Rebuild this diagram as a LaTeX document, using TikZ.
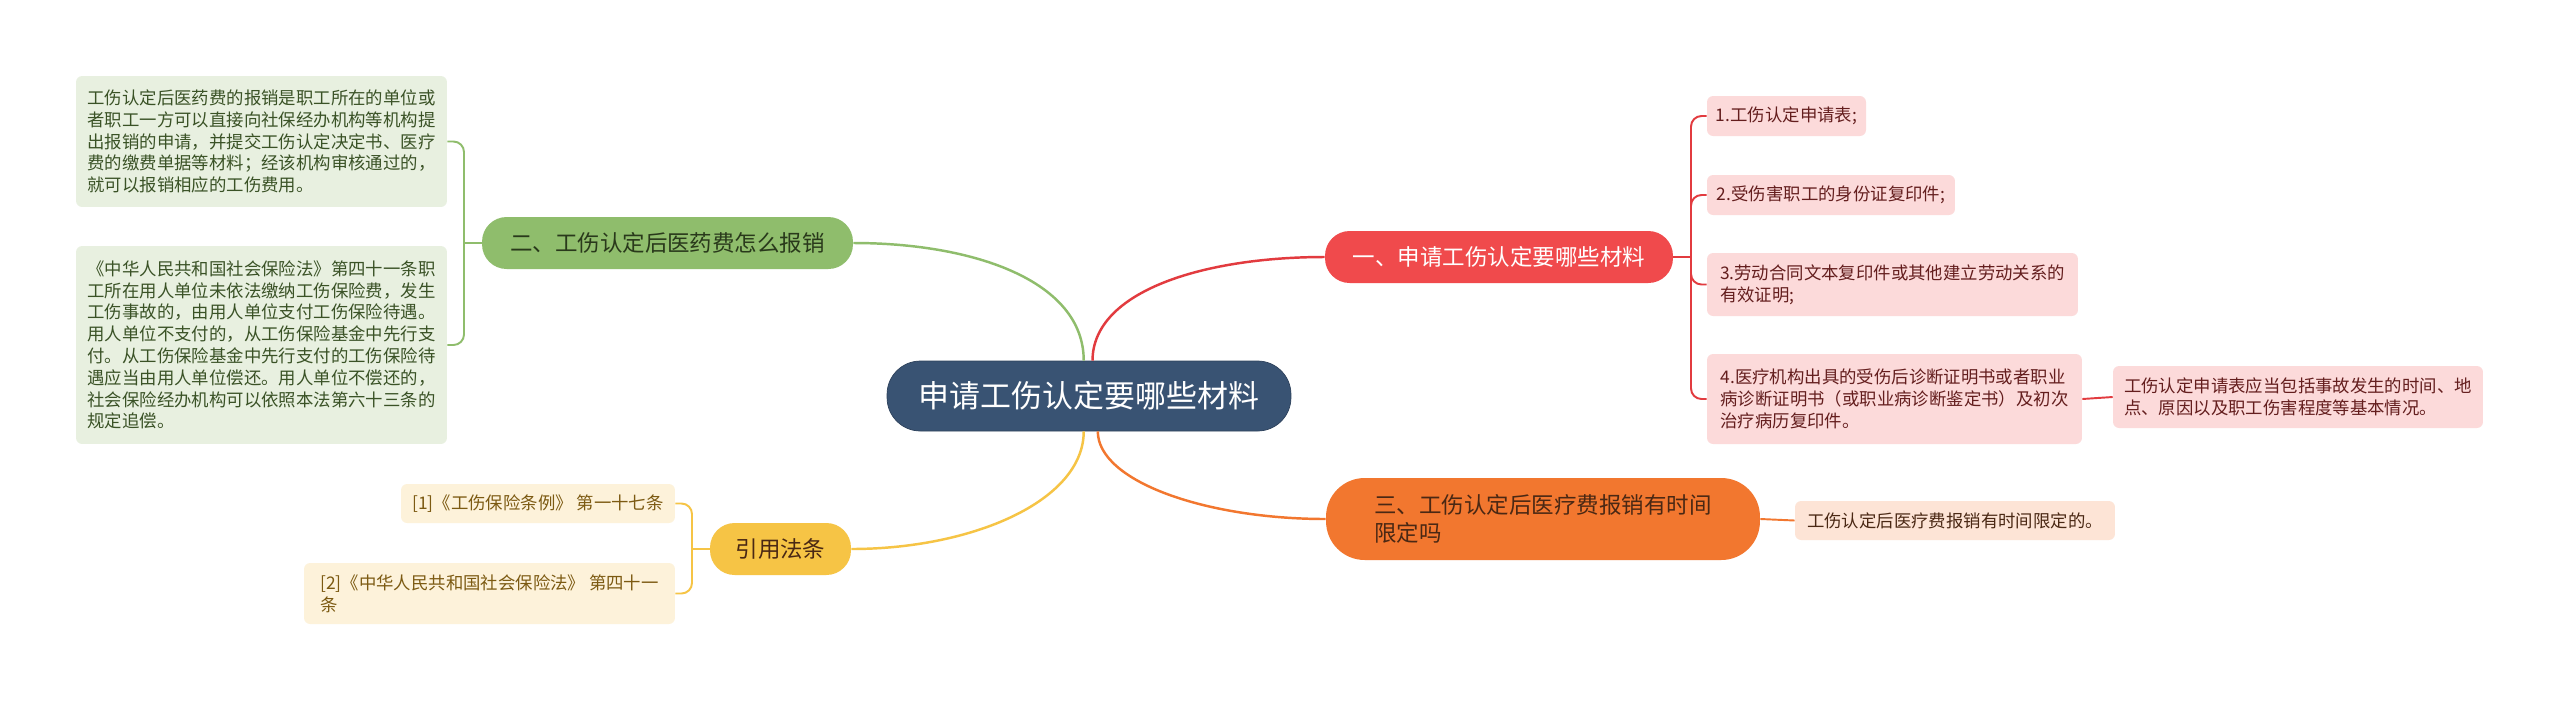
\documentclass[tikz,border=0pt]{standalone}
\usepackage{fontspec}
\setmainfont{Noto Sans CJK SC}
\definecolor{rootblue}{HTML}{395373}
\definecolor{redmain}{HTML}{F04A4C}
\definecolor{redline}{HTML}{E23B3F}
\definecolor{redleaf}{HTML}{FCDADA}
\definecolor{redtext}{HTML}{641E1E}
\definecolor{greenmain}{HTML}{8FBD6C}
\definecolor{greenleaf}{HTML}{E8F0E0}
\definecolor{greentext}{HTML}{3A5226}
\definecolor{yellowmain}{HTML}{F6C445}
\definecolor{yellowleaf}{HTML}{FDF2DA}
\definecolor{yellowtext}{HTML}{7C5A12}
\definecolor{orangemain}{HTML}{F2772F}
\definecolor{orangeleaf}{HTML}{FDE4D6}
\definecolor{orangetext}{HTML}{4A2814}
\tikzset{
  leaf/.style={rounded corners=3.5pt, inner sep=0pt, align=left, font=\fontsize{9.9}{12.4}\selectfont},
  branch/.style={rounded corners=14pt, inner sep=0pt, align=left, minimum height=1.04cm, font=\fontsize{12.8}{15.7}\selectfont},
  link/.style={line width=1.4pt},
  twig/.style={line width=1.1pt, rounded corners=6pt},
}
\begin{document}
\begin{tikzpicture}[x=0.02cm, y=-0.02cm]
                \fill [white] (0,0) rectangle (2560,701);
                \useasboundingbox (0,0) rectangle (2560,701);
                
                % Drawing root
                \node [fill=rootblue, draw=rootblue!80!black, rounded corners=19pt, minimum width=8.08cm, minimum height=1.4cm, text=white, font=\fontsize{17.6}{21}\selectfont] (root) at (1089,396) {申请工伤认定要哪些材料};
                
                % Drawing branch red
                \node [branch, fill=redmain, minimum width=6.96cm, text=white] (red) at (1499,257) {一、申请工伤认定要哪些材料};
                
                % Drawing branch green
                \node [branch, fill=greenmain, minimum width=7.42cm, text=greentext!70!black] (green) at (667.5,243) {二、工伤认定后医药费怎么报销};
                
                % Drawing branch orange
                \node [branch, fill=orangemain, rounded corners=22pt, minimum width=8.68cm, minimum height=1.64cm, text=orangetext] (orange) at (1543,519) {三、工伤认定后医疗费报销有时间\\限定吗};
                
                % Drawing branch yellow
                \node [branch, fill=yellowmain, minimum width=2.82cm, text=orangetext] (yellow) at (780.5,549) {引用法条};
                
                % Drawing leaves red
                \node [leaf, fill=redleaf, text=redtext, minimum width=3.18cm, minimum height=0.8cm] (r1) at (1786.5,116) {1.工伤认定申请表;};
                \node [leaf, fill=redleaf, text=redtext, minimum width=4.96cm, minimum height=0.8cm] (r2) at (1831,195) {2.受伤害职工的身份证复印件;};
                \node [leaf, fill=redleaf, text=redtext, minimum width=7.42cm, minimum height=1.26cm] (r3) at (1892.5,284.5) {3.劳动合同文本复印件或其他建立劳动关系的\\有效证明;};
                \node [leaf, fill=redleaf, text=redtext, minimum width=7.5cm, minimum height=1.8cm] (r4) at (1894.5,399) {4.医疗机构出具的受伤后诊断证明书或者职业\\病诊断证明书（或职业病诊断鉴定书）及初次\\治疗病历复印件。};
                \node [leaf, fill=redleaf, text=redtext, minimum width=7.4cm, minimum height=1.24cm] (r4note) at (2298,397) {工伤认定申请表应当包括事故发生的时间、地\\点、原因以及职工伤害程度等基本情况。};
                
                % Drawing leaf orange
                \node [leaf, fill=orangeleaf, text=orangetext, minimum width=6.4cm, minimum height=0.78cm] (o1) at (1955,520.5) {工伤认定后医疗费报销有时间限定的。};
                
                % Drawing leaves green
                \node [leaf, fill=greenleaf, text=greentext, minimum width=7.42cm, minimum height=2.62cm] (g1) at (261.5,141.5) {工伤认定后医药费的报销是职工所在的单位或\\者职工一方可以直接向社保经办机构等机构提\\出报销的申请，并提交工伤认定决定书、医疗\\费的缴费单据等材料；经该机构审核通过的，\\就可以报销相应的工伤费用。};
                \node [leaf, fill=greenleaf, text=greentext, minimum width=7.42cm, minimum height=3.96cm] (g2) at (261.5,345) {《中华人民共和国社会保险法》第四十一条职\\工所在用人单位未依法缴纳工伤保险费，发生\\工伤事故的，由用人单位支付工伤保险待遇。\\用人单位不支付的，从工伤保险基金中先行支\\付。从工伤保险基金中先行支付的工伤保险待\\遇应当由用人单位偿还。用人单位不偿还的，\\社会保险经办机构可以依照本法第六十三条的\\规定追偿。};
                
                % Drawing leaves yellow
                \node [leaf, fill=yellowleaf, text=yellowtext, minimum width=5.48cm, minimum height=0.78cm] (y1) at (538,503.5) {[1]《工伤保险条例》 第一十七条};
                \node [leaf, fill=yellowleaf, text=yellowtext, minimum width=7.42cm, minimum height=1.22cm] (y2) at (489.5,593.5) {[2]《中华人民共和国社会保险法》 第四十一\\条};
                
                % Drawing links from root
                \draw [link, redline] ([xshift=2pt]root.north) .. controls +(0,-70) and +(-120,0) .. (red.west);
                \draw [link, greenmain] ([xshift=-3pt]root.north) .. controls +(0,-80) and +(120,0) .. (green.east);
                \draw [link, yellowmain] ([xshift=-3pt]root.south) .. controls +(0,70) and +(120,0) .. (yellow.east);
                \draw [link, orangemain] ([xshift=5pt]root.south) .. controls +(0,50) and +(-120,0) .. (orange.west);
                
                % Drawing twigs red
                \coordinate (rj) at (1691,257);
                \draw [twig, redline] (red.east) -- (rj);
                \draw [twig, redline] (rj) |- (r1.west);
                \draw [twig, redline] (rj) |- (r2.west);
                \draw [twig, redline] (rj) |- (r3.west);
                \draw [twig, redline] (rj) |- (r4.west);
                \draw [twig, redline] (r4.east) -- (r4note.west);
                
                % Drawing twig orange
                \draw [twig, orangemain] (orange.east) -- (o1.west);
                
                % Drawing twigs green
                \coordinate (gj) at (464,243);
                \draw [twig, greenmain] (green.west) -- (gj);
                \draw [twig, greenmain] (gj) |- (g1.east);
                \draw [twig, greenmain] (gj) |- (g2.east);
                
                % Drawing twigs yellow
                \coordinate (yj) at (692,549);
                \draw [twig, yellowmain] (yellow.west) -- (yj);
                \draw [twig, yellowmain] (yj) |- (y1.east);
                \draw [twig, yellowmain] (yj) |- (y2.east);
\end{tikzpicture}
\end{document}
